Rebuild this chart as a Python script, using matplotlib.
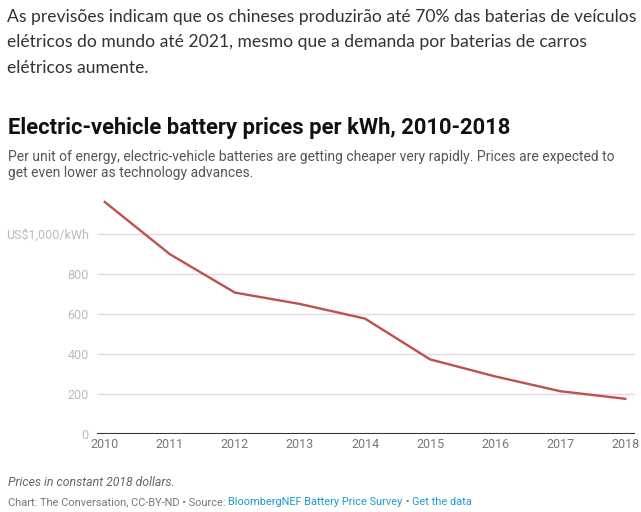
import matplotlib.pyplot as plt
import matplotlib

# data (BloombergNEF survey, US$/kWh, constant 2018 dollars)
years = [2010, 2011, 2012, 2013, 2014, 2015, 2016, 2017, 2018]
prices = [1160, 899, 707, 650, 577, 373, 288, 214, 176]
ytick_vals = [0, 200, 400, 600, 800, 1000]
ytick_labels = ["0", "200", "400", "600", "800", "US$1,000/kWh"]

W, H = 641, 512
keycolor = "#222222"
linecolor = "#c0504b"

fig = plt.figure(figsize=(W / 100, H / 100), dpi=100)
fig.patch.set_facecolor("white")


def px(x, y):
    # pixel coords (top-left origin) -> figure fraction
    return x / W, 1 - y / H


# intro paragraph
intro = ["As previsões indicam que os chineses produzirão até 70% das baterias de veículos",
         "elétricos do mundo até 2021, mesmo que a demanda por baterias de carros",
         "elétricos aumente."]
for i, line in enumerate(intro):
    fig.text(*px(7, 17 + i * 25.5), line, family="Lato", fontsize=12.6,
             color="#333333", va="center", ha="left")

# title + subtitle
fig.text(*px(8, 128), "Electric-vehicle battery prices per kWh, 2010-2018",
         family="Roboto", weight="bold", fontsize=15.85, color="#111111",
         va="center", ha="left")
subtitle = ["Per unit of energy, electric-vehicle batteries are getting cheaper very rapidly. Prices are expected to",
            "get even lower as technology advances."]
for i, line in enumerate(subtitle):
    fig.text(*px(8, 157 + i * 15.5), line, family="Roboto", fontsize=10.0,
             color="#555555", va="center", ha="left")

# axes
left, right = px(97, 0)[0], px(635, 0)[0]
bottom, top = px(0, 434)[1], px(0, 194)[1]
ax = fig.add_axes([left, bottom, right - left, top - bottom])
ax.plot(years, prices, color=linecolor, linewidth=1.7, zorder=3)
ax.set_xlim(2009.88, 2018.15)
ax.set_ylim(0, 1200)

ax.set_yticks(ytick_vals)
ax.set_yticklabels(ytick_labels)
ax.set_xticks(years)
ax.set_xticklabels([str(y) for y in years])
ax.grid(axis="y", color="#dddddd", linewidth=1)
ax.axhline(0, color="#333333", linewidth=1.5, zorder=4)

for s in ax.spines.values():
    s.set_visible(False)
ax.tick_params(axis="y", length=0, pad=6, labelsize=9, labelcolor="#bbbbbb")
ax.tick_params(axis="x", length=0, pad=3, labelsize=9, labelcolor="#777777")
for lab in ax.get_xticklabels() + ax.get_yticklabels():
    lab.set_family("Roboto")

# footnotes
fig.text(*px(8, 482), "Prices in constant 2018 dollars.", family="Roboto",
         style="italic", fontsize=8.8, color="#666666", va="center", ha="left")

pieces = [("Chart: The Conversation, CC-BY-ND • Source: ", "#777777"),
          ("BloombergNEF Battery Price Survey", "#1a9bd7"),
          (" • ", "#777777"),
          ("Get the data", "#1a9bd7")]
renderer = fig.canvas.get_renderer()
x0 = 8
for txt, col in pieces:
    t = fig.text(*px(x0, 502), txt, family="Roboto", fontsize=7.9, color=col,
                 va="center", ha="left")
    x0 += t.get_window_extent(renderer).width

fig.savefig("out.png", dpi=100)
